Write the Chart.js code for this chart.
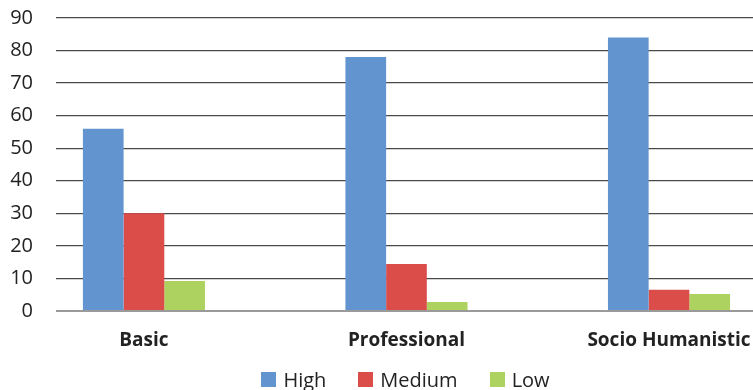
<!DOCTYPE html>
<html lang="en">

<head>
    <meta charset="UTF-8">
    <title>Levels chart</title>
    <script src="https://cdn.jsdelivr.net/npm/chart.js"></script>
    <style>
        html, body {
            margin: 0;
            padding: 0;
            background: #fff;
        }

        .wrap {
            position: relative;
            width: 753px;
            height: 390px;
            overflow: hidden;
        }

        #legend {
            position: absolute;
            left: 0;
            width: 753px;
            top: 366px;
            display: flex;
            justify-content: center;
            padding-left: 58px;
            box-sizing: border-box;
            font-family: 'Open Sans', sans-serif;
            font-size: 20px;
            color: #222;
        }

        #legend span {
            display: flex;
            align-items: center;
            margin: 0 16px;
        }

        #legend i {
            display: inline-block;
            width: 15px;
            height: 15px;
            margin-right: 7px;
        }
    </style>
</head>

<body>
    <div class="wrap">
        <canvas id="levels" width="753" height="390"></canvas>
        <div id="legend"></div>
    </div>

    <script>
        // data
        const categories = ['Basic', 'Professional', 'Socio Humanistic'];
        const seriesNames = ['High', 'Medium', 'Low'];
        const highValues = [56, 78, 84];
        const mediumValues = [30, 14.4, 6.5];
        const lowValues = [9.2, 2.8, 5.2];
        const yTicks = [0, 10, 20, 30, 40, 50, 60, 70, 80, 90];
        const colors = ['#6295cf', '#db4d48', '#aed25f'];

        const allValues = [highValues, mediumValues, lowValues];

        // legend below the chart
        const legend = document.getElementById('legend');
        seriesNames.forEach(function (name, i) {
            const item = document.createElement('span');
            item.innerHTML = '<i style="background:' + colors[i] + '"></i>' + name;
            legend.appendChild(item);
        });

        // no automatic label padding, the layout padding does the job
        function noPadding(scale) {
            scale.paddingLeft = 0;
            scale.paddingRight = 0;
            scale.paddingTop = 0;
            scale.paddingBottom = 0;
        }

        const ctx = document.getElementById('levels').getContext('2d');
        new Chart(ctx, {
            type: 'bar',
            data: {
                datasets: seriesNames.map(function (name, i) {
                    return {
                        label: name,
                        data: allValues[i].map(function (v, j) { return { x: j, y: v }; }),
                        backgroundColor: colors[i],
                        borderWidth: 0,
                        categoryPercentage: 0.465,
                        barPercentage: 1
                    };
                })
            },
            options: {
                responsive: false,
                animation: false,
                layout: {
                    padding: { top: 18, right: 0, left: 0, bottom: 0 }
                },
                plugins: {
                    legend: { display: false },
                    tooltip: { enabled: false }
                },
                scales: {
                    x: {
                        type: 'linear',
                        offset: false,
                        min: -0.335,
                        max: 2.32,
                        grid: { display: false, drawTicks: false, offset: false },
                        border: { display: false },
                        afterFit: function (scale) {
                            scale.height = 79;
                            noPadding(scale);
                        },
                        ticks: {
                            stepSize: 1,
                            includeBounds: false,
                            padding: 18,
                            maxRotation: 0,
                            autoSkip: false,
                            color: '#222',
                            font: { family: 'Open Sans', size: 19, weight: 'bold' },
                            callback: function (value) { return categories[value]; }
                        }
                    },
                    y: {
                        min: yTicks[0],
                        max: yTicks[yTicks.length - 1],
                        afterFit: function (scale) {
                            scale.width = 56;
                            noPadding(scale);
                        },
                        afterBuildTicks: function (scale) {
                            scale.ticks = yTicks.map(function (v) { return { value: v }; });
                        },
                        grid: {
                            drawTicks: false,
                            color: function (c) { return c.tick && c.tick.value === 0 ? '#9a9a9a' : '#4a4a4a'; },
                            lineWidth: function (c) { return c.tick && c.tick.value === 0 ? 2 : 1.3; }
                        },
                        border: { display: false },
                        ticks: {
                            padding: 23,
                            color: '#222',
                            font: { family: 'Open Sans', size: 20 }
                        }
                    }
                }
            }
        });
    </script>
</body>

</html>
